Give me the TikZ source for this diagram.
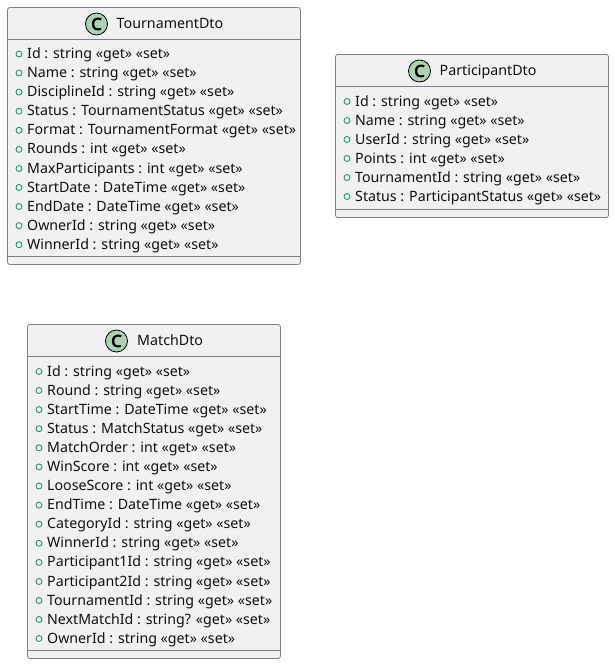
\documentclass[tikz,border=0pt]{standalone}
\usepackage{fontspec}
\setmainfont{Noto Sans}
\newfontfamily\badgefont[FakeBold=4]{Noto Sans}
\definecolor{boxfill}{HTML}{F1F1F1}
\definecolor{boxline}{HTML}{7F7F7F}
\definecolor{badge}{HTML}{ADD1B2}
\definecolor{vis}{HTML}{1B8A5A}
\definecolor{ink}{HTML}{101010}
\tikzset{x=1pt,y=-1pt,
 classbox/.style={draw=boxline,fill=boxfill,line width=0.8pt,rounded corners=2.5pt},
 sep/.style={draw=boxline,line width=0.8pt},
 badgec/.style={circle,draw=black,fill=badge,line width=0.8pt,minimum size=22pt,inner sep=0pt,font=\fontsize{16.5}{16}\badgefont,text=black},
 titlet/.style={anchor=base west,inner sep=0pt,font=\fontsize{14.25}{14}\selectfont,text=ink},
 rowt/.style={anchor=base west,inner sep=0pt,font=\fontsize{14.2}{14}\selectfont,text=ink},
 dot/.style={circle,draw=vis,line width=0.8pt,minimum size=6pt,inner sep=0pt}}
\newcommand{\umlrow}[4]{%
 \node[dot] (#1d) at (#2,#3-4.5) {};
 \node[rowt] (#1) at (#2+8,#3) {#4};}
\begin{document}
\begin{tikzpicture}
\useasboundingbox (0,0) rectangle (614,664);
% TournamentDto
\path[classbox] (7.5,7.5) rectangle (300.5,264.5);
\draw[sep] (7.5,39.5) -- (300.5,39.5);
\draw[sep] (7.5,256.5) -- (300.5,256.5);
\node[badgec] (c1) at (96.5,24) {C};
\node[titlet] (t1) at (116.5,28.5) {TournamentDto};
\umlrow{a1}{19}{58.5}{Id : string «get» «set»}
\umlrow{a2}{19}{77.5}{Name : string «get» «set»}
\umlrow{a3}{19}{96.6}{DisciplineId : string «get» «set»}
\umlrow{a4}{19}{115.7}{Status : TournamentStatus «get» «set»}
\umlrow{a5}{19}{134.8}{Format : TournamentFormat «get» «set»}
\umlrow{a6}{19}{153.9}{Rounds : int «get» «set»}
\umlrow{a7}{19}{173}{MaxParticipants : int «get» «set»}
\umlrow{a8}{19}{192}{StartDate : DateTime «get» «set»}
\umlrow{a9}{19}{211}{EndDate : DateTime «get» «set»}
\umlrow{a10}{19}{230.1}{OwnerId : string «get» «set»}
\umlrow{a11}{19}{249.2}{WinnerId : string «get» «set»}
% ParticipantDto
\path[classbox] (335.5,54.5) rectangle (608.5,217.5);
\draw[sep] (335.5,86.5) -- (608.5,86.5);
\draw[sep] (335.5,209.5) -- (608.5,209.5);
\node[badgec] (c2) at (419.5,71) {C};
\node[titlet] (t2) at (439.5,75.5) {ParticipantDto};
\umlrow{b1}{347}{106}{Id : string «get» «set»}
\umlrow{b2}{347}{125}{Name : string «get» «set»}
\umlrow{b3}{347}{144}{UserId : string «get» «set»}
\umlrow{b4}{347}{163}{Points : int «get» «set»}
\umlrow{b5}{347}{182}{TournamentId : string «get» «set»}
\umlrow{b6}{347}{201}{Status : ParticipantStatus «get» «set»}
% MatchDto
\path[classbox] (27.5,324.5) rectangle (280.5,658.5);
\draw[sep] (27.5,356.5) -- (280.5,356.5);
\draw[sep] (27.5,650.5) -- (280.5,650.5);
\node[badgec] (c3) at (116.5,341) {C};
\node[titlet] (t3) at (137,345.5) {MatchDto};
\umlrow{m1}{39}{376}{Id : string «get» «set»}
\umlrow{m2}{39}{395}{Round : string «get» «set»}
\umlrow{m3}{39}{414.1}{StartTime : DateTime «get» «set»}
\umlrow{m4}{39}{433.2}{Status : MatchStatus «get» «set»}
\umlrow{m5}{39}{452.3}{MatchOrder : int «get» «set»}
\umlrow{m6}{39}{471.4}{WinScore : int «get» «set»}
\umlrow{m7}{39}{490.5}{LooseScore : int «get» «set»}
\umlrow{m8}{39}{509.6}{EndTime : DateTime «get» «set»}
\umlrow{m9}{39}{528.7}{CategoryId : string «get» «set»}
\umlrow{m10}{39}{547.8}{WinnerId : string «get» «set»}
\umlrow{m11}{39}{566.9}{Participant1Id : string «get» «set»}
\umlrow{m12}{39}{586}{Participant2Id : string «get» «set»}
\umlrow{m13}{39}{605}{TournamentId : string «get» «set»}
\umlrow{m14}{39}{624}{NextMatchId : string? «get» «set»}
\umlrow{m15}{39}{643}{OwnerId : string «get» «set»}
\end{tikzpicture}
\end{document}
